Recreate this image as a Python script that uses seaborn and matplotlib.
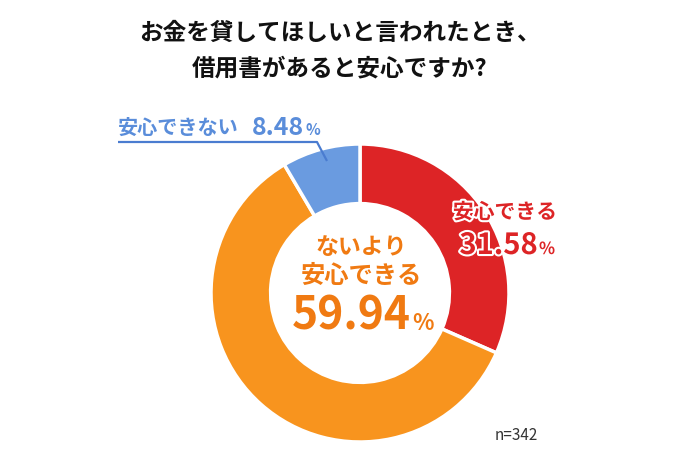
import matplotlib
matplotlib.use("Agg")
import matplotlib.pyplot as plt
import matplotlib.patheffects as pe
import seaborn as sns

# data
categories = ["安心できる", "ないより安心できる", "安心できない"]
shares = [31.58, 59.94, 8.48]
n_resp = 342
title_lines = ["お金を貸してほしいと言われたとき、", "借用書があると安心ですか?"]

# style
sns.set_theme(style="white")
plt.rcParams["font.family"] = ["Noto Sans CJK JP", "DejaVu Sans"]

slice_colors = sns.color_palette(["#DD2426", "#F8941E", "#6A9BE0"])
text_colors = {"安心できる": "#DD2426", "ないより安心できる": "#F07A12", "安心できない": "#5A8DDA"}

W, H = 680, 464
fig = plt.figure(figsize=(W / 100, H / 100), dpi=100)
ax = fig.add_axes([0, 0, 1, 1])

def Y(y):
    # image-style y (top = 0) -> axes y
    return H - y

cx, cy, R = 360, 294, 149
ax.pie(shares, colors=slice_colors, startangle=90, counterclock=False,
       center=(cx, Y(cy)), radius=R,
       wedgeprops=dict(width=R * 0.40, edgecolor="white", linewidth=2.5))
ax.set_xlim(0, W)
ax.set_ylim(0, H)
ax.set_aspect("equal")
ax.axis("off")

# title
for i, line in enumerate(title_lines):
    ax.text(W / 2, Y(33 + 35 * i), line, ha="center", va="center",
            fontsize=17, fontweight="bold", color="#111111")

def pct(x, y, val, size, color, psize, fx=None):
    ax.text(x, Y(y), f"{val:.2f}", ha="right", va="baseline",
            fontsize=size, fontweight="bold", color=color, path_effects=fx)
    ax.text(x + 1, Y(y), "%", ha="left", va="baseline",
            fontsize=psize, fontweight="bold", color=color, path_effects=fx)

# red slice label (red text with white outline)
c = text_colors[categories[0]]
halo = [pe.withStroke(linewidth=3, foreground="white")]
ax.text(505, Y(213), categories[0], ha="center", va="center",
        fontsize=15, fontweight="bold", color=c, path_effects=halo)
pct(538, 255, shares[0], 21, c, 12, halo)

# centre label (orange)
c = text_colors[categories[1]]
ax.text(361, Y(248), "ないより", ha="center", va="center",
        fontsize=16.5, fontweight="bold", color=c)
ax.text(361, Y(276), "安心できる", ha="center", va="center",
        fontsize=17.5, fontweight="bold", color=c)
pct(411, 330, shares[1], 32, c, 16)

# blue slice label with leader line
c = text_colors[categories[2]]
ax.text(118, Y(127), categories[2], ha="left", va="center",
        fontsize=14.5, fontweight="bold", color=c)
pct(304, 135, shares[2], 18, c, 11)
ax.plot([118, 317, 327], [Y(143), Y(143), Y(162)], color="#4A7CD0", lw=1.6,
        solid_capstyle="butt")

ax.text(516, Y(436), f"n={n_resp}", ha="center", va="center",
        fontsize=11, color="#333333")

fig.savefig("out.png", dpi=100)
